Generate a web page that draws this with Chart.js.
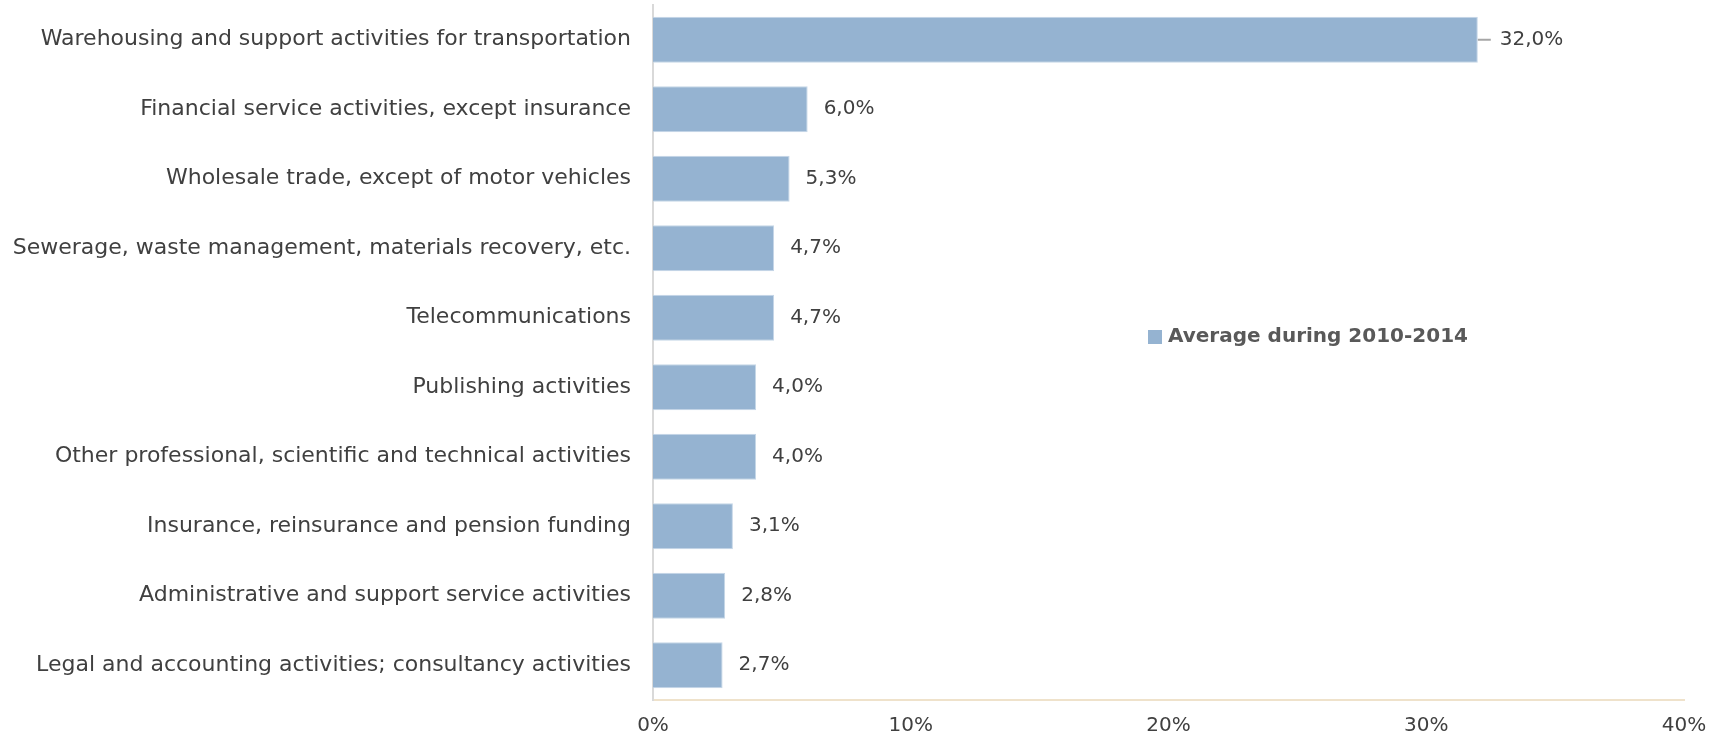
<!DOCTYPE html>
<html>
<head>
<meta charset="utf-8">
<script src="https://cdn.jsdelivr.net/npm/chart.js@4"></script>
<style>
html,body{margin:0;padding:0;background:#fff;}
#wrap{width:1715px;height:739px;position:relative;}
</style>
</head>
<body>
<div id="wrap"><canvas id="c" width="1715" height="739"></canvas></div>
<script>
const categories = [
  "Warehousing and support activities for transportation",
  "Financial service activities, except insurance",
  "Wholesale trade, except of motor vehicles",
  "Sewerage, waste management, materials recovery, etc.",
  "Telecommunications",
  "Publishing activities",
  "Other professional, scientific and technical activities",
  "Insurance, reinsurance and pension funding",
  "Administrative and support service activities",
  "Legal and accounting activities; consultancy activities"
];
const seriesName = "Average during 2010-2014";
const values = [32.0, 6.0, 5.3, 4.7, 4.7, 4.0, 4.0, 3.1, 2.8, 2.7];
const xTicks = [0, 10, 20, 30, 40];

const FONT = "'DejaVu Sans', sans-serif";
const TEXT = '#404040';

const valueLabels = {
  id: 'valueLabels',
  afterDatasetsDraw(chart) {
    const ctx = chart.ctx;
    const meta = chart.getDatasetMeta(0);
    ctx.save();
    ctx.font = '20px ' + FONT;
    ctx.fillStyle = TEXT;
    ctx.textBaseline = 'middle';
    ctx.textAlign = 'left';
    meta.data.forEach((bar, i) => {
      const v = values[i];
      const txt = v.toFixed(1).replace('.', ',') + '%';
      if (i === 0) {
        ctx.strokeStyle = '#A6A6A6';
        ctx.lineWidth = 2;
        ctx.beginPath();
        ctx.moveTo(bar.x, bar.y);
        ctx.lineTo(bar.x + 13, bar.y);
        ctx.stroke();
        ctx.fillText(txt, bar.x + 22, bar.y);
      } else {
        ctx.fillText(txt, bar.x + 16, bar.y);
      }
    });
    ctx.restore();
  }
};

const innerLegend = {
  id: 'innerLegend',
  afterDraw(chart) {
    const ctx = chart.ctx;
    const ds = chart.data.datasets[0];
    ctx.save();
    ctx.fillStyle = ds.backgroundColor;
    ctx.fillRect(1148, 330, 14, 14);
    ctx.font = 'bold 20px ' + FONT;
    ctx.fillStyle = '#595959';
    ctx.textBaseline = 'middle';
    ctx.textAlign = 'left';
    ctx.fillText(ds.label, 1168, 337);
    ctx.restore();
  }
};

new Chart(document.getElementById('c'), {
  type: 'bar',
  data: {
    labels: categories,
    datasets: [{
      label: seriesName,
      data: values,
      backgroundColor: '#95B3D1',
      borderColor: '#C5D6E7',
      borderWidth: 1,
      categoryPercentage: 1.0,
      barPercentage: 0.66
    }]
  },
  options: {
    indexAxis: 'y',
    responsive: false,
    animation: false,
    layout: { padding: { top: 5, right: 31, left: 0, bottom: 0 } },
    plugins: { legend: { display: false }, tooltip: { enabled: false } },
    scales: {
      x: {
        min: 0, max: 40,
        afterBuildTicks(scale) { scale.ticks = xTicks.map(v => ({ value: v })); },
        afterFit(scale) { scale.height = 39; scale.paddingLeft = 0; scale.paddingRight = 0; },
        grid: { display: false, drawTicks: false },
        border: { display: true, color: '#EFE2CB', width: 2 },
        ticks: {
          padding: 14,
          color: TEXT,
          font: { family: FONT, size: 20 },
          callback: v => v + '%'
        }
      },
      y: {
        afterFit(scale) { scale.width = 653; scale.paddingTop = 0; scale.paddingBottom = 0; },
        grid: { display: false, drawTicks: false },
        border: { display: true, color: '#D9D9D9', width: 2 },
        ticks: {
          padding: 22,
          color: TEXT,
          font: { family: FONT, size: 22 }
        }
      }
    }
  },
  plugins: [valueLabels, innerLegend]
});
</script>
</body>
</html>
